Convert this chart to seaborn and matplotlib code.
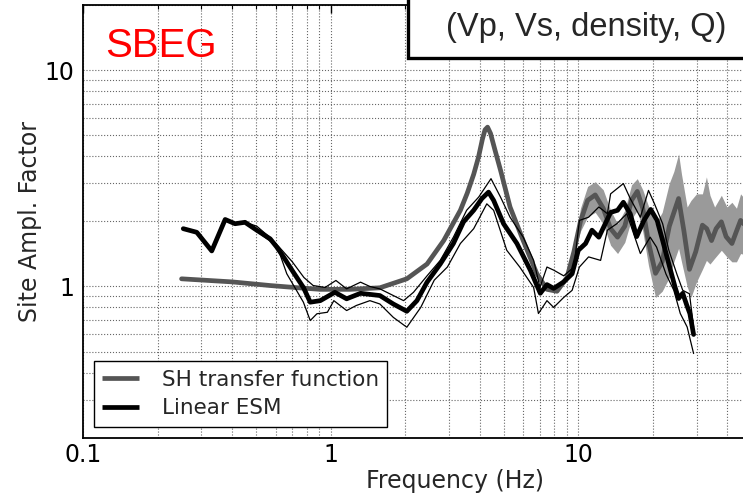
import matplotlib
matplotlib.use("Agg")
import matplotlib.pyplot as plt
import matplotlib.ticker as mticker
from matplotlib.patches import Rectangle
from matplotlib.lines import Line2D
import seaborn as sns

# SH transfer function (thick gray)
sh_freq = [0.25, 0.4, 0.57, 0.75, 0.91, 1.2, 1.58, 2.03, 2.45, 2.86, 3.34, 3.56, 3.78,
           3.95, 4.1, 4.2, 4.3, 4.42, 4.6, 4.85, 5.3, 5.99, 6.8, 7.47, 8.2, 9.0, 9.6,
           10.2, 10.9, 11.7, 12.6, 13.5, 14.4, 15.4, 16.4, 17.3, 18.2, 19.2, 20.5,
           21.8, 23.3, 25.4, 26.7, 28.1, 29.8, 31.7, 33.0, 34.5, 36.0, 37.8, 39.5,
           41.7, 43.5, 45.2, 47.5]
sh_amp = [1.085, 1.05, 1.01, 0.985, 0.97, 0.97, 0.986, 1.085, 1.27, 1.63, 2.25, 2.7, 3.3,
          3.95, 4.8, 5.3, 5.45, 5.1, 4.3, 3.45, 2.33, 1.63, 1.145, 0.97, 0.95, 1.1, 1.45,
          2.0, 2.5, 2.65, 2.3, 1.85, 1.69, 1.9, 2.5, 2.75, 2.3, 1.6, 1.15,
          1.3, 1.9, 2.55, 1.8, 1.2, 1.45, 1.92, 1.85, 1.63, 1.85, 1.99, 1.7,
          1.58, 1.8, 2.02, 1.9]

# uncertainty band of the transfer function (light gray)
band_freq = [9.6, 10.2, 10.9, 11.7, 12.6, 13.5, 14.4, 15.4, 16.4, 17.3, 18.2, 19.2,
             20.5, 21.8, 23.3, 24.3, 25.4, 26.1, 27.5, 28.5, 30.0, 31.7, 32.9, 34.0,
             35.5, 37.8, 39.8, 41.7, 43.5, 45.2, 47.5]
band_lo = [1.4, 1.8, 2.1, 2.2, 1.95, 1.55, 1.42, 1.6, 2.05, 2.25, 1.8, 1.25,
           0.89, 0.95, 1.1, 1.3, 1.5, 1.3, 1.0, 0.89, 1.05, 1.2, 1.32, 1.27,
           1.35, 1.47, 1.37, 1.3, 1.3, 1.42, 1.4]
band_hi = [1.55, 2.3, 2.9, 3.05, 2.8, 2.25, 1.95, 2.25, 2.95, 3.15, 2.8, 2.35,
           1.95, 2.2, 3.0, 3.4, 4.1, 3.3, 2.33, 2.5, 2.68, 2.68, 3.21, 2.64,
           2.33, 2.64, 2.33, 2.45, 2.3, 2.68, 2.5]

# Linear ESM mean (thick black)
esm_freq = [0.254, 0.288, 0.331, 0.375, 0.411, 0.451, 0.503, 0.57, 0.606, 0.645, 0.708,
            0.776, 0.827, 0.908, 1.04, 1.16, 1.32, 1.58, 1.79, 2.03, 2.23, 2.45, 2.77,
            3.13, 3.44, 3.78, 4.08, 4.34, 4.55, 4.99, 5.65, 6.4, 7.02, 7.47, 7.95, 8.73,
            9.44, 10.0, 10.7, 11.35, 12.1, 12.65, 13.5, 14.4, 15.2, 16.2, 17.2, 18.4,
            19.6, 20.8, 21.9, 23.2, 24.6, 25.4, 26.4, 27.4, 28.2, 29.2]
esm_amp = [1.85, 1.78, 1.46, 2.04, 1.95, 1.98, 1.82, 1.66, 1.52, 1.37, 1.16,
           0.99, 0.846, 0.86, 0.94, 0.877, 0.93, 0.908, 0.83, 0.768, 0.86, 1.047, 1.27,
           1.58, 1.99, 2.25, 2.55, 2.73, 2.5, 1.95, 1.58, 1.19, 0.93, 1.02, 0.98, 1.05,
           1.145, 1.47, 1.58, 1.82, 1.69, 1.88, 2.2, 2.25, 2.45, 2.17, 1.7, 2.02,
           2.27, 2.02, 1.63, 1.27, 0.99, 0.88, 0.93, 0.82, 0.75, 0.6]

# Linear ESM spread (thin black)
up_freq = [0.451, 0.503, 0.57, 0.62, 0.7, 0.78, 0.85, 0.95, 1.05, 1.16, 1.32, 1.44,
           1.58, 1.97, 2.16, 2.45, 2.77, 3.13, 3.54, 3.96, 4.44, 4.85, 5.3, 5.99, 6.6,
           7.0, 7.47, 7.95, 8.73, 9.6, 10.1, 11.0, 12.1, 13.1, 13.5, 15.2, 16.2, 17.8,
           19.2, 20.3, 21.9, 23.2, 25.0, 26.4, 28.1, 29.2]
up_amp = [1.98, 1.9, 1.68, 1.52, 1.3, 1.1, 1.01, 0.99, 1.066, 0.975, 1.047, 1.0,
          0.975, 0.86, 0.94, 1.12, 1.32, 1.69, 2.25, 2.59, 3.15, 2.59, 2.09, 1.69, 1.32,
          0.99, 1.23, 1.19, 1.12, 1.23, 2.02, 2.09, 2.33, 2.17, 2.68, 2.99, 2.55, 2.09,
          2.78, 2.41, 1.95, 1.47, 1.14, 0.96, 0.925, 0.65]
lo_freq = [0.451, 0.503, 0.57, 0.606, 0.665, 0.776, 0.827, 0.88, 0.97, 1.03, 1.16, 1.27,
           1.44, 1.58, 1.79, 2.03, 2.31, 2.62, 2.96, 3.34, 3.78, 4.27, 4.55, 5.14, 5.8,
           6.6, 6.9, 7.47, 7.95, 8.73, 9.44, 10.1, 11.0, 12.3, 13.1, 14.3, 15.7, 17.8,
           19.5, 20.7, 22.6, 24.3, 25.8, 27.5, 29.2]
lo_amp = [1.98, 1.8, 1.62, 1.55, 1.145, 0.846, 0.696, 0.748, 0.76, 0.86, 0.774, 0.817,
          0.86, 0.83, 0.72, 0.648, 0.8, 1.07, 1.23, 1.58, 1.85, 2.41, 2.25, 1.47, 1.23,
          0.99, 0.75, 0.86, 0.8, 0.89, 0.96, 1.23, 1.37, 1.32, 1.82, 1.95, 2.17, 1.42,
          1.69, 1.52, 1.14, 0.96, 0.75, 0.65, 0.49]

sns.set_style("white")
plt.rcParams["font.family"] = ["DejaVu Sans"]

fig = plt.figure(figsize=(7.43, 4.99), dpi=100)
ax = fig.add_axes([83 / 743, 61.3 / 499, 1.0, 432.7 / 499])
ax.set_xscale("log")
ax.set_yscale("log")

ax.fill_between(band_freq, band_lo, band_hi, color="#9a9a9a", lw=0, zorder=2)
sns.lineplot(x=sh_freq, y=sh_amp, ax=ax, color="#555555", lw=3.4, sort=False,
             estimator=None, zorder=3)
sns.lineplot(x=up_freq, y=up_amp, ax=ax, color="black", lw=0.9, sort=False,
             estimator=None, zorder=4)
sns.lineplot(x=lo_freq, y=lo_amp, ax=ax, color="black", lw=0.9, sort=False,
             estimator=None, zorder=4)
sns.lineplot(x=esm_freq, y=esm_amp, ax=ax, color="black", lw=3.4, sort=False,
             estimator=None, zorder=5)

ax.set_xlim(0.1, 100)
ax.set_ylim(0.2, 20)

ax.xaxis.set_major_locator(mticker.FixedLocator([0.1, 1, 10]))
ax.xaxis.set_major_formatter(mticker.FixedFormatter(["0.1", "1", "10"]))
ax.yaxis.set_major_locator(mticker.FixedLocator([1, 10]))
ax.yaxis.set_major_formatter(mticker.FixedFormatter(["1", "10"]))
ax.xaxis.set_minor_locator(mticker.LogLocator(base=10, subs=range(2, 10), numticks=20))
ax.yaxis.set_minor_locator(mticker.LogLocator(base=10, subs=range(2, 10), numticks=20))
ax.xaxis.set_minor_formatter(mticker.NullFormatter())
ax.yaxis.set_minor_formatter(mticker.NullFormatter())
ax.tick_params(which="both", direction="in", top=True, right=True, colors="black",
               labelsize=17)
ax.tick_params(which="major", length=6, width=1)
ax.tick_params(which="minor", length=3, width=0.8)
ax.tick_params(axis="x", pad=4)
ax.tick_params(axis="y", pad=6)

ax.grid(True, which="both", linestyle=":", color="0.4", linewidth=0.8, zorder=0)
for sp in ax.spines.values():
    sp.set_color("black")
    sp.set_linewidth(1.3)

ax.set_xlabel("Frequency (Hz)", fontsize=17, labelpad=1)
ax.set_ylabel("Site Ampl. Factor", fontsize=17, labelpad=2)

handles = [Line2D([], [], color="#555555", lw=3.4, solid_capstyle="butt"),
           Line2D([], [], color="black", lw=3.4, solid_capstyle="butt")]
leg = ax.legend(handles, ["SH transfer function", "Linear ESM"], loc="lower left",
                fontsize=15.5, frameon=True, fancybox=False, framealpha=1,
                edgecolor="black", handlelength=1.7, handletextpad=1.05,
                borderpad=0.4, borderaxespad=0.5, labelspacing=0.4)
leg.get_frame().set_linewidth(1.0)
leg.set_zorder(10)

fig.text(105 / 743, (499 - 57) / 499, "SBEG", color="red", fontsize=29,
         family="Liberation Sans", va="baseline", ha="left")

box = Rectangle((408 / 743, (499 - 58) / 499), 0.6, 0.3, transform=fig.transFigure,
                facecolor="white", edgecolor="black", lw=2.4, zorder=20, clip_on=False)
fig.add_artist(box)
fig.text(446 / 743, (499 - 36) / 499, "(Vp, Vs, density, Q)", fontsize=23.5,
         family="Liberation Sans", va="baseline", ha="left", zorder=21)

fig.savefig("out.png", dpi=100)
